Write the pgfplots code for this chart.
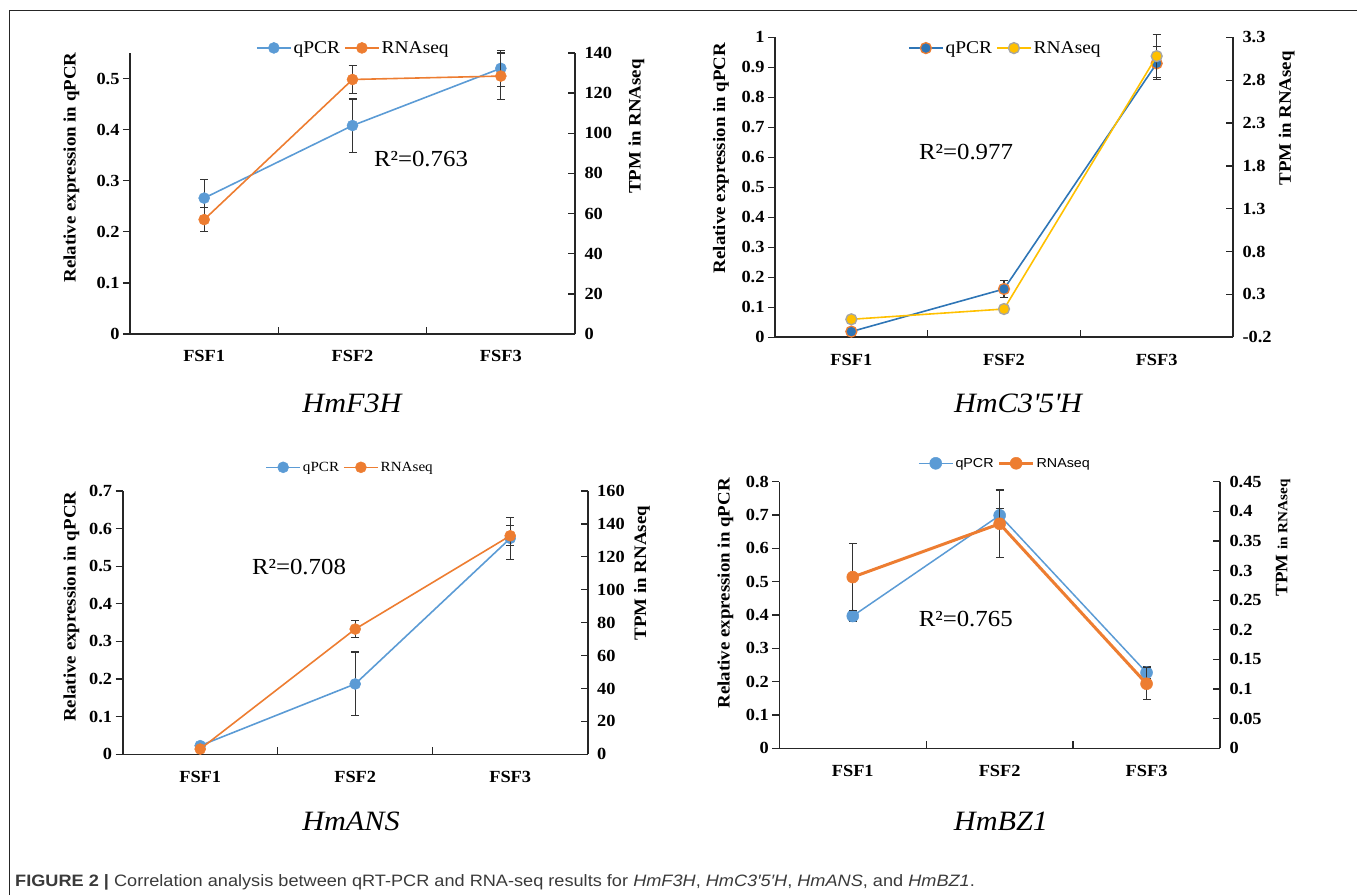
\documentclass[border=0pt]{standalone}
\usepackage{pgfplots}
\pgfplotsset{compat=1.18}
\usepackage{fontspec}
\setmainfont{Liberation Serif}[FakeStretch=1.08]
\newfontfamily\capsans{Liberation Sans}[FakeStretch=1.1]

\definecolor{xblue}{HTML}{5B9BD5}
\definecolor{xorange}{HTML}{ED7D31}
\definecolor{dblue}{HTML}{2E75B6}
\definecolor{xgold}{HTML}{FFC000}
\definecolor{xgray}{HTML}{A5A5A5}
\definecolor{axisc}{HTML}{262626}
\definecolor{capc}{HTML}{3A3A3A}

\newcommand\fs[1]{\fontsize{#1}{#1}\selectfont}

\pgfplotsset{
  panel/.style={
    scale only axis, clip=false,
    xmin=0.5, xmax=3.5,
    axis line style={line width=1.6pt, draw=axisc},
    tick style={line width=1.3pt, draw=axisc},
    major tick length=7pt,
    tick label style={font=\bfseries\fs{17}},
    /pgf/number format/assume math mode=true,
    scaled y ticks=false,
    yticklabel style={/pgf/number format/fixed, /pgf/number format/precision=2},
  },
  leftax/.style={panel,
    axis x line*=bottom, axis y line*=left,
    xtick={1.5,2.5}, xticklabels={,,}, xtick align=inside, ytick align=outside,
    extra x ticks={1,2,3}, extra x tick labels={FSF1,FSF2,FSF3},
    extra x tick style={major tick length=0pt,
      xticklabel style={font=\bfseries\fs{17}, yshift=-13pt}},
  },
  rightax/.style={panel,
    axis x line=none, axis y line*=right, xtick=\empty, ytick align=inside,
    yticklabel style={xshift=6pt},
    legend columns=2,
    legend style={draw=none, fill=none, anchor=center, inner sep=1pt,
      /tikz/every even column/.append style={column sep=2pt}},
    legend image code/.code={\draw[mark repeat=2, mark phase=2, ##1]
      plot coordinates {(0pt,0pt) (17pt,0pt) (34pt,0pt)};},
  },
  ebar/.style={error bars/.cd, y dir=both, y explicit,
    error bar style={line width=1.1pt, black!80},
    error mark options={rotate=90, mark size=4pt, line width=1.1pt, black!80}},
  % series styles
  p1q/.style={color=xblue, line width=1.6pt, mark=*, mark size=5.5pt,
    mark options={fill=xblue, draw=xblue, line width=0.5pt}},
  p1r/.style={color=xorange, line width=1.6pt, mark=*, mark size=5.5pt,
    mark options={fill=xorange, draw=xorange, line width=0.5pt}},
  p2q/.style={color=dblue, line width=1.6pt, mark=*, mark size=5.5pt,
    mark options={fill=dblue, draw=xorange, line width=1.3pt}},
  p2r/.style={color=xgold, line width=1.6pt, mark=*, mark size=5.5pt,
    mark options={fill=xgold, draw=xgray, line width=1.3pt}},
  p4q/.style={color=xblue, line width=1.5pt, mark=*, mark size=6pt,
    mark options={fill=xblue, draw=xblue, line width=0.5pt}},
  p4r/.style={color=xorange, line width=3pt, mark=*, mark size=6pt,
    mark options={fill=xorange, draw=xorange, line width=0.5pt}},
}

\begin{document}
\begin{tikzpicture}
\path[use as bounding box] (0pt,0pt) rectangle (1357pt,895pt);

% frame
\draw[line width=1pt, black!85] (9.5pt,0pt) -- (9.5pt,884.3pt) -- (1357pt,884.3pt);

% ---------------- HmF3H ----------------
\begin{axis}[leftax, at={(130pt,561pt)}, anchor=south west,
  width=445pt, height=281pt, ymin=0, ymax=0.55,
  ytick={0,0.1,0.2,0.3,0.4,0.5}]
\addplot[p1q, ebar] coordinates {
  (1,0.266) +- (0,0.037)
  (2,0.408) +- (0,0.052)
  (3,0.520) +- (0,0.035)
};
\end{axis}
\begin{axis}[rightax, at={(130pt,561pt)}, anchor=south west,
  width=445pt, height=281pt, ymin=0, ymax=140,
  ytick={0,20,40,60,80,100,120,140},
  legend style={at={(0.502,1.018)}, font=\fs{18}}]
\addlegendimage{p1q}
\addlegendentry{qPCR}
\addplot[p1r, ebar] coordinates {
  (1,57.0) +- (0,6)
  (2,126.8) +- (0,7)
  (3,128.5) +- (0,11.5)
};
\addlegendentry{RNAseq}
\end{axis}
\node[rotate=90] at (71.5pt,727.5pt) {\bfseries\fs{17.5}Relative expression in qPCR};
\node[rotate=90] at (636.5pt,768.5pt) {\bfseries\fs{17.5}TPM in RNAseq};
\node at (421pt,736pt) {\fs{23}R²=0.763};
\node at (352pt,492pt) {\itshape\fs{28}HmF3H};

% ---------------- HmC3'5'H ----------------
\begin{axis}[leftax, at={(775pt,557.7pt)}, anchor=south west,
  width=458pt, height=300pt, ymin=0, ymax=1,
  ytick={0,0.1,0.2,0.3,0.4,0.5,0.6,0.7,0.8,0.9,1}]
\addplot[p2q, ebar] coordinates {
  (1,0.019) +- (0,0)
  (2,0.161) +- (0,0.029)
  (3,0.913) +- (0,0.055)
};
\end{axis}
\begin{axis}[rightax, at={(775pt,557.7pt)}, anchor=south west,
  width=458pt, height=300pt, ymin=-0.2, ymax=3.3,
  ytick={-0.2,0.3,0.8,1.3,1.8,2.3,2.8,3.3},
  legend style={at={(0.503,0.964)}, font=\fs{18}}]
\addlegendimage{p2q}
\addlegendentry{qPCR}
\addplot[p2r, ebar] coordinates {
  (1,0.01) +- (0,0)
  (2,0.13) +- (0,0)
  (3,3.08) +- (0,0.25)
};
\addlegendentry{RNAseq}
\end{axis}
\node[rotate=90] at (721pt,737pt) {\bfseries\fs{17.5}Relative expression in qPCR};
\node[rotate=90] at (1286.6pt,776.7pt) {\bfseries\fs{17.5}TPM in RNAseq};
\node at (966pt,743pt) {\fs{23}R²=0.977};
\node at (1018pt,492pt) {\itshape\fs{28}HmC3\textquotesingle5\textquotesingle H};

% ---------------- HmANS ----------------
\begin{axis}[leftax, at={(122.7pt,140.7pt)}, anchor=south west,
  width=465pt, height=263.3pt, ymin=0, ymax=0.7,
  ytick={0,0.1,0.2,0.3,0.4,0.5,0.6,0.7}]
\addplot[p1q, ebar] coordinates {
  (1,0.023) +- (0,0)
  (2,0.187) +- (0,0.085)
  (3,0.574) +- (0,0.055)
};
\end{axis}
\begin{axis}[rightax, at={(122.7pt,140.7pt)}, anchor=south west,
  width=465pt, height=263.3pt, ymin=0, ymax=160,
  ytick={0,20,40,60,80,100,120,140,160},
  legend style={at={(0.489,1.09)}, font=\fs{14}}]
\addlegendimage{p1q}
\addlegendentry{qPCR}
\addplot[p1r, ebar] coordinates {
  (1,3.2) +- (0,0)
  (2,76.1) +- (0,5.3)
  (3,132.8) +- (0,6)
};
\addlegendentry{RNAseq}
\end{axis}
\node[rotate=90] at (71.5pt,288.3pt) {\bfseries\fs{17.5}Relative expression in qPCR};
\node[rotate=90] at (641.8pt,322pt) {\bfseries\fs{17.5}TPM in RNAseq};
\node at (299pt,328.3pt) {\fs{23}R²=0.708};
\node at (351pt,73.3pt) {\itshape\fs{28}HmANS};

% ---------------- HmBZ1 ----------------
\begin{axis}[leftax, at={(779.3pt,146.7pt)}, anchor=south west,
  width=440.7pt, height=266.6pt, ymin=0, ymax=0.8,
  ytick={0,0.1,0.2,0.3,0.4,0.5,0.6,0.7,0.8}]
\addplot[p4q, ebar] coordinates {
  (1,0.397) +- (0,0.015)
  (2,0.699) +- (0,0.02)
  (3,0.227) +- (0,0.018)
};
\end{axis}
\begin{axis}[rightax, at={(779.3pt,146.7pt)}, anchor=south west,
  width=440.7pt, height=266.6pt, ymin=0, ymax=0.45,
  ytick={0,0.05,0.1,0.15,0.2,0.25,0.3,0.35,0.4,0.45},
  legend style={at={(0.512,1.069)}, font=\capsans\fs{13}}]
\addlegendimage{p4q}
\addlegendentry{qPCR}
\addplot[p4r, ebar] coordinates {
  (1,0.289) +- (0,0.057)
  (2,0.379) +- (0,0.057)
  (3,0.109) +- (0,0.027)
};
\addlegendentry{RNAseq}
\end{axis}
\node[rotate=90] at (725.3pt,301.7pt) {\bfseries\fs{17.5}Relative expression in qPCR};
\node[rotate=90] at (1283pt,357pt) {\bfseries\fs{17.5}TPM {\fs{14}in RNAseq}};
\node at (965.7pt,276pt) {\fs{23}R²=0.765};
\node at (1001pt,73.3pt) {\itshape\fs{28}HmBZ1};

% caption
\node[anchor=west, inner sep=0pt, text=capc] at (15pt,13pt)
  {\capsans\fs{16.5}\textbf{FIGURE 2 |} Correlation analysis between qRT-PCR and RNA-seq results for \textit{HmF3H}, \textit{HmC3′5′H}, \textit{HmANS}, and \textit{HmBZ1}.};
\end{tikzpicture}
\end{document}
